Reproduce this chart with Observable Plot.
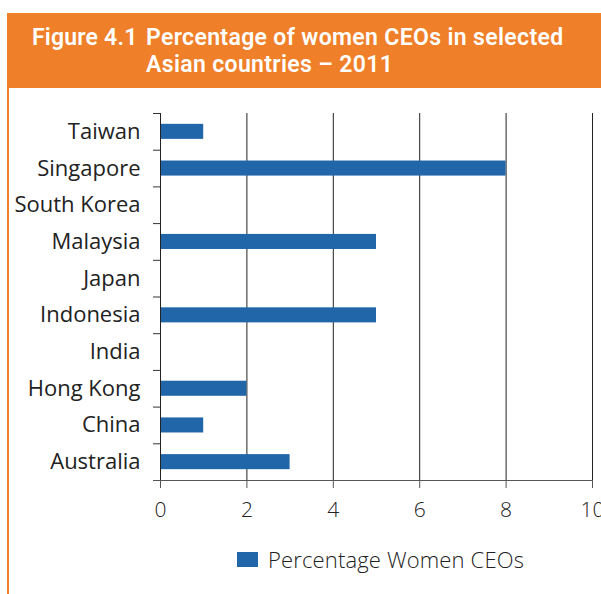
<!DOCTYPE html>
<html>
<head>
<meta charset="utf-8">
<script src="https://cdn.jsdelivr.net/npm/d3@7"></script>
<script src="https://cdn.jsdelivr.net/npm/@observablehq/plot@0.6"></script>
<style>
  body { margin: 0; background: #fff; }
  #wrap { position: relative; width: 601px; height: 594px; overflow: hidden; font-family: "Open Sans", sans-serif; }
  #header { position: absolute; left: 7px; top: 13px; width: 594px; height: 75px; background: #ef7f29; color: #fff; font-family: Roboto, sans-serif; font-weight: 600; font-size: 23px; }
  #fig { position: absolute; left: 25px; top: 12px; line-height: 26.5px; letter-spacing: 0.2px; }
  #title { position: absolute; left: 139px; top: 12px; line-height: 26.5px; letter-spacing: 0.35px; white-space: nowrap; }
  #border { position: absolute; left: 7px; top: 88px; width: 2px; height: 506px; background: #ef7f29; }
  #chart { position: absolute; left: 0; top: 88px; line-height: 0; }
  #legend { position: absolute; left: 237px; top: 544px; display: flex; align-items: center; font-size: 22px; color: #222; font-weight: 300; letter-spacing: 0.15px; }
  #legend .sw { width: 21px; height: 15px; background: #2066a9; margin-right: 10px; }
</style>
</head>
<body>
<div id="wrap">
  <div id="header">
    <div id="fig">Figure 4.1</div>
    <div id="title">Percentage of women CEOs in selected<br>Asian countries – 2011</div>
  </div>
  <div id="border"></div>
  <div id="chart"></div>
  <div id="legend"><div class="sw"></div><span id="legendLabel"></span></div>
</div>
<script>
const countries = ["Taiwan", "Singapore", "South Korea", "Malaysia", "Japan", "Indonesia", "India", "Hong Kong", "China", "Australia"];
const values = [1, 8, 0, 5, 0, 5, 0, 2, 1, 3];
const xTicks = [0, 2, 4, 6, 8, 10];
const seriesName = "Percentage Women CEOs";
const barColor = "#2066a9";

const data = countries.map((c, i) => ({country: c, value: values[i]}));
document.getElementById("legendLabel").textContent = seriesName;

const chart = Plot.plot({
  width: 601,
  height: 440,
  marginTop: 25,
  marginBottom: 48,
  marginLeft: 160,
  marginRight: 9,
  style: {fontFamily: "'Open Sans', sans-serif", fontSize: "22px", color: "#222", background: "transparent"},
  x: {domain: [0, 10], ticks: xTicks, label: null},
  y: {domain: countries, paddingInner: 0.59, paddingOuter: 0.295, round: false, label: null},
  marks: [
    Plot.gridX(xTicks.slice(1), {stroke: "#222", strokeOpacity: 1}),
    Plot.frame({anchor: "bottom", insetLeft: -7, stroke: "#555"}),
    Plot.axisX({ticks: xTicks, tickSize: 8, tickPadding: 14, stroke: "#555", fontWeight: 300, fontSize: 21, label: null}),
    Plot.axisY({tickSize: 7, tickFormat: () => "", dy: -18.35, stroke: "#333", label: null}),
    Plot.axisY({tickSize: 0, tickPadding: 20, label: null}),
    Plot.barX(data, {x: "value", y: "country", fill: barColor}),
    Plot.ruleX([0], {stroke: "#222"})
  ]
});
document.getElementById("chart").appendChild(chart);
</script>
</body>
</html>
